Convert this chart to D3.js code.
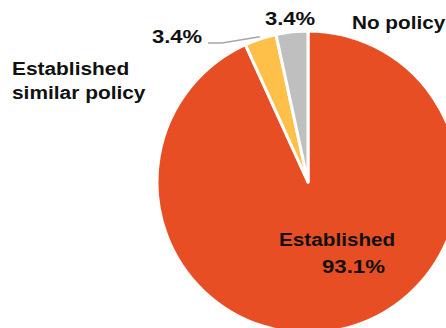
<!DOCTYPE html>
<html>
<head>
<meta charset="utf-8">
<script src="https://cdn.jsdelivr.net/npm/d3@7"></script>
<style>
  html, body { margin: 0; padding: 0; background: #fff; overflow: hidden; }
  svg { display: block; }
  text { font-family: "Liberation Sans", Arial, sans-serif; font-weight: bold; font-size: 18.5px; fill: #111; }
</style>
</head>
<body>
<svg id="chart" width="446" height="328"></svg>
<script>
// Policy status shares (percent)
const categories = ["Established", "Established similar policy", "No policy"];
const values = [93.1, 3.4, 3.4];
const valueLabels = ["93.1%", "3.4%", "3.4%"];
const colors = ["#E84E24", "#FFC04A", "#BFBFBF"];

const width = 446, height = 328;
const cx = 308, cy = 182, radius = 151;

const svg = d3.select("#chart");
const g = svg.append("g").attr("transform", `translate(${cx},${cy})`);

const pie = d3.pie().sort(null).value(d => d.value);
const arc = d3.arc().innerRadius(0).outerRadius(radius);

const data = categories.map((c, i) => ({ name: c, value: values[i], label: valueLabels[i], color: colors[i] }));
const arcs = pie(data);

g.selectAll("path.slice")
  .data(arcs)
  .join("path")
  .attr("class", "slice")
  .attr("d", arc)
  .attr("fill", d => d.data.color)
  .attr("stroke", "#fff")
  .attr("stroke-width", 3)
  .attr("stroke-linejoin", "round");

// Leader line for the small "similar policy" slice
const similar = arcs[1];
const midA = (similar.startAngle + similar.endAngle) / 2;
const edge = [Math.sin(midA) * (radius + 2), -Math.cos(midA) * (radius + 2)];
g.append("polyline")
  .attr("points", [[-100, -139], [-86, -139], edge].map(p => p.join(",")).join(" "))
  .attr("fill", "none")
  .attr("stroke", "#A6A6A6")
  .attr("stroke-width", 1.5);

// Wide bold labels: the face is stretched horizontally
function label(x, y, str, sx) {
  svg.append("text")
    .attr("transform", `translate(${x},${y}) scale(${sx},1)`)
    .text(str);
}

label(279, 246, categories[0], 1.12);
label(322, 273, valueLabels[0], 1.2);

const simParts = ["Established", "similar policy"];
label(12, 75, simParts[0], 1.13);
label(12, 99, simParts[1], 1.13);
label(152, 43, valueLabels[1], 1.19);

label(352, 29, categories[2], 1.12);
label(265, 25, valueLabels[2], 1.19);
</script>
</body>
</html>
